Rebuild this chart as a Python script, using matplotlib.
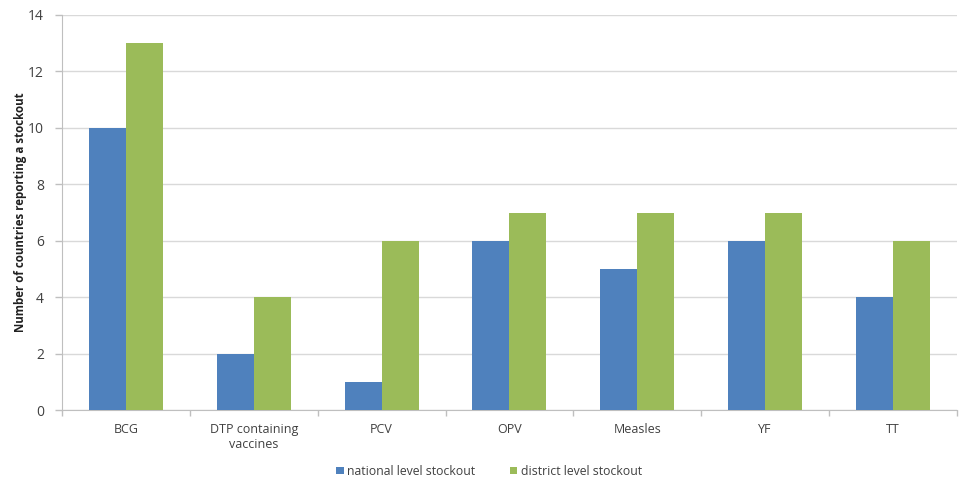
import matplotlib
matplotlib.use("Agg")
import matplotlib.pyplot as plt
import numpy as np

categories = ["BCG", "DTP containing\nvaccines", "PCV", "OPV", "Measles", "YF", "TT"]
national = [10, 2, 1, 6, 5, 6, 4]
district = [13, 4, 6, 7, 7, 7, 6]
yticks = [0, 2, 4, 6, 8, 10, 12, 14]

plt.rcParams['font.family'] = ['Open Sans', 'DejaVu Sans']

fig = plt.figure(figsize=(9.59, 4.82), dpi=100)
ax = fig.add_axes([0.0647, 0.149, 0.933, 0.82])

x = np.arange(len(categories))
w = 0.29
ax.bar(x - w/2, national, w, color="#4F81BD", label="national level stockout", zorder=3)
ax.bar(x + w/2, district, w, color="#9BBB59", label="district level stockout", zorder=3)

ax.set_xlim(-0.5, len(categories) - 0.5)
ax.set_ylim(0, 14)
ax.set_yticks(yticks)
ax.set_yticklabels([str(v) for v in yticks], fontsize=10, color="#404040")
ax.yaxis.grid(True, color="#D9D9D9", linewidth=1, zorder=0)
ax.set_axisbelow(True)

ax.set_xticks(x)
ax.set_xticklabels(categories, fontsize=9, color="#404040", linespacing=1.25)
ax.tick_params(axis='x', length=0, pad=9)
ax.set_xticks(np.arange(-0.5, len(categories)), minor=True)
ax.tick_params(axis='x', which='minor', length=4, color="#BFBFBF", width=1)
ax.tick_params(axis='y', length=5, color="#BFBFBF", width=1, pad=8)

for s in ["top", "right"]:
    ax.spines[s].set_visible(False)
for s in ["left", "bottom"]:
    ax.spines[s].set_color("#BFBFBF")

ax.set_ylabel("Number of countries reporting a stockout", fontsize=8.3, fontweight="bold", color="#202020", labelpad=1)

leg = fig.legend(loc="center", bbox_to_anchor=(0.51, 0.022), ncol=2, frameon=False,
                 fontsize=8.8, handlelength=0.6, handleheight=0.6, columnspacing=2.8, handletextpad=0.3)
for t in leg.get_texts():
    t.set_color("#404040")

fig.savefig("out.png", dpi=100)
